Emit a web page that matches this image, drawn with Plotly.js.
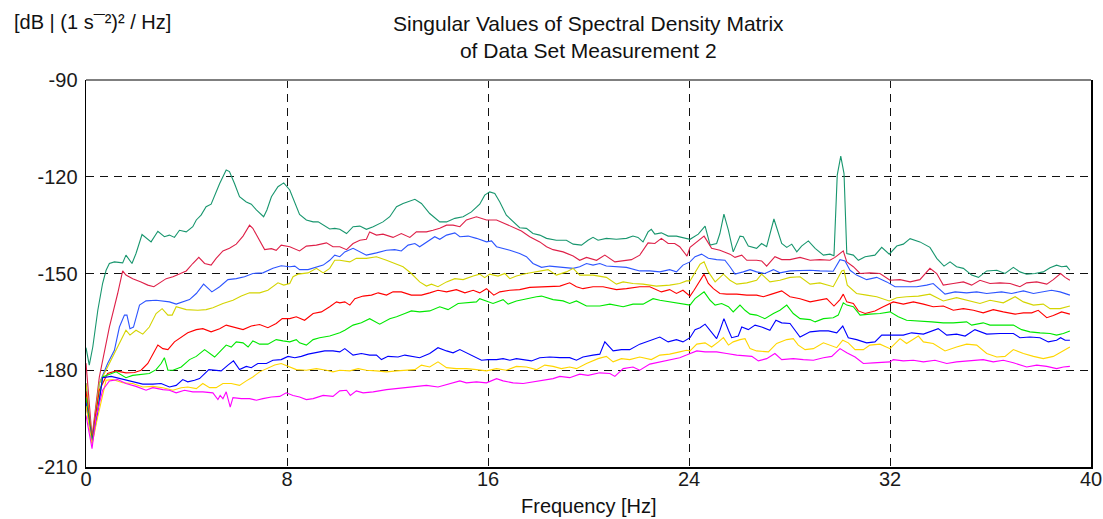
<!DOCTYPE html>
<html>
<head>
<meta charset="utf-8">
<script src="https://cdn.plot.ly/plotly-3.0.1.min.js"></script>
<style>html,body{margin:0;padding:0;background:#fff;}#chart{width:1103px;height:519px;}</style>
</head>
<body>
<div id="chart"></div>
<script>
// ---- data (frequency [Hz], singular value [dB]) ----
const sv1F = [0,0.13,0.27,0.47,0.66,0.80,0.93,1.13,1.46,1.59,1.83,1.99,2.23,2.59,2.86,3.12,3.32,3.52,3.72,3.99,4.25,4.39,4.58,4.78,4.98,5.12,5.32,5.58,5.71,5.91,6.11,6.38,6.58,6.78,7.07,7.20,7.38,7.64,7.87,8.11,8.31,8.50,8.77,9.04,9.24,9.44,9.70,9.90,10.10,10.37,10.63,10.90,11.16,11.43,11.82,12.09,12.36,12.62,13.09,13.35,13.68,14.08,14.35,14.68,15.01,15.34,15.67,15.87,16.07,16.27,16.47,16.73,17.00,17.26,17.53,17.79,18.06,18.33,18.72,19.12,19.39,19.72,19.98,20.18,20.38,20.71,21.11,21.51,21.77,21.97,22.17,22.37,22.50,22.64,22.90,23.17,23.50,23.76,24.04,24.37,24.64,24.84,25.10,25.23,25.39,25.57,25.76,26.03,26.16,26.36,26.69,26.89,27.09,27.38,27.69,27.89,28.09,28.29,28.48,28.75,29.02,29.35,29.61,29.77,29.90,30.04,30.17,30.28,30.54,30.74,31.01,31.40,31.67,31.97,32.27,32.53,32.80,33.19,33.59,33.86,34.15,34.39,34.65,34.92,35.25,35.52,35.85,36.25,36.58,36.91,37.17,37.44,37.77,38.10,38.37,38.63,38.83,39.03,39.16];
const sv1 = [-173,-178.4,-172.8,-161.4,-153.1,-149.0,-146.9,-146.4,-146.7,-144.3,-146.9,-143.8,-137.9,-140.2,-136.9,-138.6,-138.1,-138.8,-136.6,-137.1,-135.5,-133.4,-131.9,-129.3,-128.5,-125.7,-122.1,-117.9,-118.4,-122.1,-126.2,-127.8,-128.5,-130.3,-132.4,-130.3,-126.2,-123.1,-121.9,-124.1,-128.3,-131.7,-133.4,-134.0,-134.0,-135.0,-136.2,-136.0,-136.3,-137.6,-135.5,-135.3,-136.3,-135.5,-134.0,-132.4,-129.3,-128.3,-127.0,-128.3,-131.4,-134.0,-134.0,-132.9,-132.4,-130.9,-128.5,-125.7,-124.7,-125.2,-127.8,-131.9,-134.0,-135.8,-136.0,-137.6,-138.1,-139.1,-139.7,-139.7,-140.9,-141.2,-139.7,-138.8,-139.7,-139.1,-139.4,-139.1,-138.4,-138.8,-140.2,-137.1,-136.3,-137.8,-137.4,-138.4,-138.4,-138.8,-139.4,-137.8,-135.3,-141.2,-140.7,-137.6,-131.6,-136.6,-143.3,-138.4,-138.6,-141.5,-142.2,-140.7,-141.7,-133.1,-140.7,-141.9,-140.9,-143.3,-141.5,-139.9,-142.2,-144.3,-144.0,-144.5,-119.5,-113.6,-119.0,-143.8,-144.3,-145.9,-144.8,-144.3,-141.9,-144.0,-141.5,-140.9,-139.2,-140.2,-141.9,-145.3,-147.7,-146.4,-147.9,-148.4,-150.5,-151.2,-149.2,-149.0,-150.0,-148.1,-149.5,-150.2,-150.0,-149.5,-148.2,-147.4,-147.9,-147.7,-149.0];

const sv2F = [0,0.24,0.53,0.93,1.26,1.46,1.59,1.86,2.19,2.46,2.70,2.92,3.19,3.46,3.72,3.99,4.25,4.49,4.72,4.98,5.18,5.45,5.71,5.98,6.25,6.51,6.64,6.84,7.11,7.38,7.57,7.77,8.11,8.50,8.77,9.17,9.57,9.83,10.10,10.37,10.63,10.90,11.16,11.29,11.56,11.82,12.22,12.55,12.89,13.15,13.55,13.81,14.08,14.35,14.61,14.88,15.14,15.54,15.94,16.34,16.60,17.00,17.33,17.66,18.06,18.33,18.59,18.99,19.39,19.65,19.92,20.32,20.65,21.05,21.38,21.71,22.04,22.37,22.64,22.90,23.17,23.43,23.63,23.92,24.04,24.31,24.60,24.90,25.23,25.63,25.83,26.10,26.30,26.69,26.89,27.09,27.42,27.69,28.02,28.42,28.82,29.21,29.61,29.81,30.14,30.28,30.54,30.81,31.20,31.60,32.00,32.40,32.80,33.19,33.59,33.86,34.12,34.52,34.92,35.25,35.58,35.98,36.38,36.78,37.17,37.44,37.84,38.24,38.50,38.79,38.97,39.16];
const sv2 = [-177.8,-200.7,-182.1,-166.6,-156.2,-149.2,-150.5,-151.6,-152.6,-153.6,-154.1,-152.9,-151.6,-151.0,-150.0,-149.2,-146.9,-145.0,-146.9,-147.4,-145.3,-143.0,-142.2,-140.9,-138.4,-135.0,-136.0,-138.8,-142.6,-142.3,-142.8,-141.2,-141.7,-143.0,-141.5,-141.2,-140.5,-141.7,-141.7,-142.6,-140.7,-139.7,-139.4,-137.1,-138.1,-137.8,-138.8,-137.6,-138.8,-137.1,-137.1,-136.6,-136.0,-135.0,-135.0,-135.5,-133.4,-132.4,-133.4,-133.4,-134.3,-135.7,-136.8,-138.6,-140.2,-141.7,-142.6,-143.3,-144.6,-145.9,-145.0,-145.9,-144.3,-146.4,-146.1,-145.7,-144.3,-140.5,-140.7,-139.1,-140.7,-140.7,-141.7,-144.6,-141.9,-140.2,-138.4,-142.2,-142.8,-144.0,-145.0,-144.3,-145.9,-145.9,-146.1,-147.7,-144.8,-145.7,-145.7,-145.0,-145.9,-145.7,-145.9,-145.0,-143.0,-146.4,-147.9,-150.0,-149.8,-150.0,-152.1,-151.9,-152.6,-151.9,-148.4,-150.0,-153.6,-153.1,-152.6,-153.6,-152.1,-153.1,-152.9,-153.1,-154.1,-152.9,-152.6,-153.3,-151.9,-150.0,-151.2,-152.1];

const sv3F = [0,0.24,0.53,0.86,1.13,1.33,1.53,1.63,1.75,1.89,2.13,2.39,2.79,3.06,3.32,3.59,3.85,4.12,4.39,4.68,5.01,5.32,5.65,5.98,6.31,6.64,7.04,7.44,7.77,8.11,8.31,8.50,8.84,9.17,9.44,9.70,9.90,10.10,10.30,10.63,10.90,11.16,11.56,11.96,12.29,12.55,12.82,13.09,13.28,13.55,13.88,14.08,14.35,14.68,14.88,15.21,15.54,15.94,16.14,16.34,16.60,16.87,17.26,17.53,17.79,18.13,18.46,18.86,19.39,19.65,19.92,20.18,20.45,20.71,21.11,21.51,22.04,22.44,22.84,23.23,23.50,23.76,24.04,24.24,24.50,24.77,25.10,25.43,25.63,25.83,26.16,26.43,26.69,27.02,27.36,27.62,28.02,28.42,28.82,29.21,29.74,30.01,30.21,30.41,30.67,31.07,31.47,31.87,32.20,32.60,33.06,33.46,33.72,34.19,34.59,35.05,35.45,35.85,36.44,36.84,37.31,37.71,38.10,38.43,38.77,39.16];
const sv3 = [-184,-201.5,-184.1,-177.9,-173.8,-166.6,-162.9,-162.9,-167.1,-166.6,-159.8,-158.5,-158.3,-158.5,-158.8,-159.5,-158.8,-158.1,-156.2,-153.3,-155.7,-154.1,-151.9,-151.6,-151.0,-150.0,-149.8,-148.4,-147.6,-147.9,-147.7,-148.8,-148.8,-147.9,-147.4,-145.9,-144.3,-144.8,-143.3,-142.2,-143.3,-144.3,-143.6,-142.8,-142.6,-143.0,-141.2,-140.7,-141.7,-140.2,-138.6,-139.4,-138.1,-137.4,-138.6,-138.4,-139.1,-140.2,-139.9,-141.7,-142.2,-142.8,-143.8,-144.8,-146.9,-148.1,-147.7,-148.1,-148.4,-147.9,-146.9,-147.4,-146.9,-147.7,-147.9,-148.1,-149.2,-149.2,-149.5,-148.8,-149.5,-147.4,-146.4,-144.8,-144.0,-145.3,-145.7,-145.9,-147.9,-150.2,-149.5,-148.8,-149.5,-150.0,-148.8,-149.8,-149.2,-149.0,-149.0,-149.2,-149.3,-145.7,-146.1,-149.0,-150.5,-151.9,-151.2,-152.6,-154.1,-154.1,-154.1,-153.6,-153.1,-156.4,-155.7,-156.0,-155.7,-156.2,-155.7,-156.2,-155.4,-156.2,-155.7,-155.2,-155.7,-156.7];

const sv4F = [0,0.24,0.53,0.93,1.26,1.59,1.75,1.99,2.26,2.52,2.79,3.03,3.26,3.43,3.59,3.99,4.45,4.78,5.05,5.45,5.85,6.18,6.51,6.91,7.24,7.64,7.87,8.11,8.24,8.44,8.84,9.17,9.44,9.70,9.90,10.10,10.50,10.76,11.16,11.56,11.96,12.29,12.62,12.95,13.28,13.55,13.75,14.01,14.35,14.68,15.01,15.41,15.67,15.87,16.07,16.40,16.67,16.87,17.13,17.53,17.93,18.39,18.72,19.12,19.39,19.65,20.18,20.71,21.11,21.38,21.77,22.17,22.70,23.23,23.63,23.90,24.04,24.24,24.44,24.60,24.77,25.04,25.37,25.63,25.90,26.30,26.69,26.89,27.22,27.62,28.02,28.42,28.82,29.21,29.74,30.08,30.17,30.30,30.67,31.07,31.47,31.97,32.27,32.66,33.13,33.59,34.12,34.65,35.05,35.58,35.98,36.51,36.98,37.31,37.71,38.10,38.37,38.77,39.16];
const sv4 = [-184,-202,-184.1,-177.9,-172.8,-167.6,-169.1,-167.6,-168.8,-166.6,-162.4,-160.9,-162.9,-162.9,-160.3,-161.2,-161.4,-161.2,-160.6,-159.3,-158.3,-157.0,-156.0,-156.0,-155.2,-152.9,-153.6,-153.1,-151.0,-150.2,-149.8,-148.4,-149.8,-148.4,-145.9,-145.9,-146.4,-145.3,-145.3,-144.8,-145.9,-146.9,-147.9,-150.0,-152.6,-153.9,-153.3,-154.1,-152.6,-151.6,-151.9,-150.8,-150.2,-151.3,-150.2,-150.8,-150.0,-151.6,-150.8,-150.0,-149.5,-148.8,-150.5,-149.5,-148.4,-150.5,-150.5,-151.2,-153.3,-152.6,-153.1,-153.3,-153.9,-153.6,-153.1,-152.3,-152.3,-149.5,-147.1,-146.4,-149.5,-152.6,-150.2,-152.1,-153.3,-152.9,-152.1,-150.2,-152.6,-152.1,-151.2,-151.0,-153.3,-152.9,-154.1,-149.2,-149.0,-153.6,-156.2,-156.7,-157.2,-158.5,-157.5,-157.2,-157.0,-156.4,-158.5,-157.5,-158.3,-159.3,-158.3,-159.1,-157.2,-158.8,-159.8,-159.5,-160.9,-160.9,-160.1];

const sv5F = [0,0.24,0.53,0.86,1.20,1.59,1.93,2.19,2.46,2.66,2.86,3.06,3.26,3.52,3.79,4.05,4.39,4.65,4.98,5.32,5.58,5.91,6.25,6.58,6.91,7.24,7.57,7.81,8.11,8.37,8.70,9.04,9.37,9.70,9.97,10.10,10.30,10.50,10.70,11.03,11.36,11.63,11.96,12.22,12.55,12.95,13.35,13.68,14.01,14.35,14.74,15.08,15.41,15.67,15.94,16.23,16.47,16.87,17.26,17.66,18.06,18.46,18.86,19.25,19.52,19.78,20.18,20.58,21.11,21.51,22.04,22.44,22.90,23.23,23.50,23.76,24.04,24.20,24.44,24.60,24.77,24.97,25.23,25.50,25.90,26.30,26.69,26.96,27.29,27.69,28.02,28.42,28.82,29.15,29.48,29.77,30.01,30.14,30.28,30.54,30.74,31.01,31.40,31.73,32.13,32.53,32.93,33.33,33.72,34.12,34.52,34.92,35.32,35.71,36.11,36.51,36.98,37.31,37.64,37.90,38.24,38.50,38.83,39.16];
const sv5 = [-186.5,-201.5,-186.2,-181.0,-180.2,-180.8,-180.7,-180.0,-177.9,-174.8,-172.2,-173.3,-173.6,-171.2,-169.7,-168.4,-167.4,-167.1,-168.1,-167.1,-166.0,-166.6,-167.4,-166.3,-165.8,-166.8,-165.5,-164.0,-164.0,-163.4,-164.5,-162.4,-161.9,-160.3,-158.8,-159.1,-158.8,-159.8,-157.8,-157.0,-156.7,-156.0,-156.7,-155.7,-155.7,-156.7,-156.7,-156.0,-155.2,-155.7,-155.0,-156.0,-155.2,-156.0,-154.7,-156.7,-155.7,-155.2,-155.0,-154.3,-154.1,-154.1,-153.9,-152.9,-154.1,-154.7,-154.1,-154.1,-155.0,-154.7,-154.1,-154.1,-155.7,-155.0,-156.2,-155.2,-157.0,-155.2,-152.1,-150.2,-153.1,-154.7,-156.2,-156.4,-156.4,-156.7,-156.7,-157.2,-156.4,-155.4,-157.2,-157.8,-158.8,-158.3,-157.8,-160.1,-158.1,-156.4,-158.8,-159.3,-161.6,-162.4,-161.6,-160.3,-158.8,-159.5,-158.8,-159.5,-160.3,-160.1,-161.4,-160.9,-161.4,-162.2,-161.2,-161.9,-162.6,-162.2,-162.2,-161.4,-163.7,-163.0,-161.9,-162.6];

const sv6F = [0,0.24,0.45,0.66,1.20,1.59,1.86,2.26,2.52,2.79,2.99,3.12,3.26,3.46,3.79,4.12,4.39,4.72,4.92,5.12,5.32,5.58,5.78,5.98,6.25,6.45,6.64,6.91,7.24,7.57,7.84,8.11,8.37,8.50,8.77,9.04,9.30,9.70,10.10,10.30,10.63,10.96,11.29,11.69,12.09,12.36,12.69,12.95,13.28,13.68,14.08,14.41,14.81,15.14,15.54,15.67,16.00,16.20,16.60,16.80,17.13,17.53,17.93,18.13,18.59,18.99,19.25,19.52,19.92,20.45,20.85,21.38,21.77,22.17,22.57,22.84,23.23,23.63,23.90,24.04,24.24,24.60,24.84,25.04,25.30,25.57,25.76,26.03,26.23,26.43,26.69,27.02,27.36,27.62,27.89,28.15,28.42,28.82,29.02,29.35,29.74,29.94,30.14,30.28,30.54,30.81,31.20,31.60,32.00,32.33,32.66,33.19,33.66,34.12,34.52,35.05,35.25,35.71,35.98,36.44,36.91,37.24,37.57,37.97,38.37,38.63,38.90,39.16];
const sv6 = [-188.5,-202,-193,-182.1,-180.5,-182.3,-181.6,-181.2,-181.0,-179.8,-177.9,-176.1,-180.0,-180.0,-179.0,-176.7,-175.7,-173.6,-174.8,-175.9,-174.3,-172.2,-172.8,-171.2,-171.5,-172.8,-170.9,-171.9,-171.9,-170.5,-170.9,-171.2,-170.5,-171.5,-172.2,-170.5,-169.9,-169.4,-168.4,-167.6,-166.0,-165.3,-164.0,-165.7,-164.0,-163.4,-162.4,-161.6,-161.9,-161.6,-160.3,-161.2,-159.3,-159.1,-158.8,-157.8,-158.8,-159.3,-158.1,-159.5,-158.5,-157.8,-157.2,-157.0,-158.1,-158.5,-159.3,-158.5,-160.1,-160.1,-159.5,-160.3,-159.5,-159.5,-157.8,-158.3,-158.8,-159.3,-159.8,-159.8,-157.8,-155.7,-158.3,-159.8,-159.3,-160.3,-161.9,-159.8,-161.4,-162.6,-162.9,-164.0,-162.4,-161.4,-159.8,-162.4,-164.0,-164.3,-165.0,-164.0,-163.7,-162.9,-159.1,-159.8,-160.3,-162.9,-162.6,-162.4,-161.9,-163.4,-164.5,-164.7,-165.0,-165.3,-165.3,-165.0,-166.0,-165.3,-166.0,-166.0,-166.0,-167.4,-168.1,-168.4,-168.6,-169.1,-168.6,-167.8];

const sv7F = [0,0.24,0.45,0.66,1.00,1.40,1.59,1.86,2.26,2.66,2.99,3.32,3.59,3.85,4.05,4.32,4.52,4.89,5.12,5.38,5.65,5.87,6.11,6.38,6.58,6.84,7.18,7.44,7.77,8.04,8.31,8.57,8.84,9.17,9.50,9.83,10.10,10.30,10.63,10.96,11.29,11.56,11.76,12.02,12.42,12.69,13.02,13.28,13.68,14.01,14.35,14.61,14.88,15.21,15.47,15.74,16.00,16.34,16.60,16.87,17.13,17.40,17.73,18.06,18.46,18.86,19.25,19.52,19.78,20.18,20.45,20.65,20.98,21.31,21.64,22.04,22.44,22.84,23.17,23.50,23.76,24.04,24.24,24.44,24.64,24.84,25.10,25.23,25.39,25.57,25.70,25.96,26.10,26.36,26.63,26.89,27.22,27.46,27.69,28.02,28.42,28.82,29.21,29.55,29.88,30.12,30.34,30.67,31.07,31.40,31.67,32.13,32.53,32.86,33.33,33.92,34.26,34.65,34.99,35.38,35.85,36.38,36.91,37.17,37.57,37.97,38.30,38.63,38.79,38.97,39.16];
const sv7 = [-190,-202.5,-194,-182.3,-181.9,-182.6,-183.1,-183.6,-184.3,-184.3,-184.1,-185.2,-184.7,-182.9,-183.6,-183.1,-182.6,-179.8,-180.0,-180.2,-178.4,-177.1,-179.8,-178.8,-179.2,-177.9,-177.9,-176.9,-176.7,-175.7,-176.1,-175.7,-175.0,-174.6,-174.0,-174.0,-174.3,-173.3,-175.3,-174.8,-175.3,-175.3,-176.7,-175.7,-175.9,-175.3,-175.7,-176.1,-174.8,-173.0,-174.0,-174.6,-173.6,-174.8,-175.9,-176.9,-176.7,-176.7,-176.4,-176.9,-176.4,-176.7,-177.1,-176.1,-175.9,-176.1,-176.1,-176.9,-175.9,-175.3,-175.0,-171.2,-174.0,-173.6,-173.6,-171.9,-170.9,-169.7,-171.2,-170.5,-171.2,-169.9,-167.4,-166.8,-165.7,-167.8,-170.2,-167.6,-164.0,-167.6,-169.9,-169.4,-166.6,-167.4,-166.0,-166.6,-167.6,-164.5,-165.3,-165.5,-169.7,-168.1,-167.8,-167.8,-168.4,-166.3,-169.9,-170.5,-171.5,-171.2,-169.1,-169.1,-169.1,-168.4,-168.8,-167.1,-169.1,-168.8,-169.4,-167.4,-168.8,-168.6,-168.6,-169.9,-169.7,-169.9,-171.2,-170.7,-169.9,-170.7,-170.7];

const sv8F = [0,0.24,0.45,0.80,1.06,1.46,1.86,2.26,2.66,3.06,3.46,3.79,4.05,4.39,4.65,4.92,5.18,5.45,5.78,6.11,6.38,6.64,6.91,7.18,7.51,7.77,8.11,8.37,8.77,9.17,9.57,9.83,10.10,10.50,10.83,11.16,11.56,11.96,12.36,12.75,13.09,13.35,13.68,14.01,14.35,14.74,15.14,15.54,15.94,16.34,16.73,17.13,17.53,17.93,18.26,18.59,18.92,19.25,19.52,19.92,20.38,20.71,20.98,21.31,21.64,22.04,22.50,22.84,23.23,23.63,23.90,24.04,24.31,24.64,24.90,25.17,25.37,25.57,25.76,26.03,26.23,26.43,26.69,27.16,27.49,27.89,28.15,28.35,28.62,28.95,29.35,29.88,30.12,30.34,30.61,30.94,31.20,31.60,32.00,32.40,32.66,33.13,33.33,33.72,34.19,34.65,35.05,35.45,35.85,36.25,36.58,36.91,37.31,37.71,38.10,38.50,38.90,39.16];
const sv8 = [-191,-203,-195,-183.1,-182.9,-183.9,-184.1,-185.2,-185.0,-185.4,-186.2,-185.4,-185.2,-185.7,-184.1,-185.4,-185.4,-184.1,-184.1,-184.7,-183.3,-182.1,-180.5,-179.5,-178.4,-177.9,-179.0,-179.8,-180.0,-179.5,-180.0,-180.5,-180.0,-180.2,-179.5,-180.0,-180.2,-180.5,-180.2,-180.0,-179.8,-178.4,-179.0,-177.4,-179.2,-179.5,-179.5,-179.8,-180.2,-179.5,-180.0,-178.8,-179.0,-179.8,-178.4,-178.8,-179.5,-179.0,-179.5,-177.9,-176.4,-175.7,-177.4,-176.4,-176.7,-175.9,-176.7,-175.3,-175.0,-174.3,-173.8,-174.0,-171.9,-171.5,-172.8,-171.2,-169.9,-172.2,-171.2,-170.5,-170.2,-173.3,-174.0,-174.3,-171.7,-170.5,-170.2,-172.2,-173.6,-173.3,-171.5,-173.0,-170.7,-171.5,-173.6,-173.6,-172.2,-171.9,-173.3,-170.2,-171.7,-169.4,-171.2,-171.7,-174.0,-172.8,-171.9,-172.2,-174.8,-175.9,-175.7,-173.6,-174.8,-175.7,-176.4,-175.7,-174.0,-172.8];

const sv9F = [0,0.24,0.40,0.66,0.93,1.26,1.59,1.99,2.39,2.66,3.06,3.32,3.59,3.92,4.25,4.65,5.05,5.25,5.34,5.45,5.58,5.74,5.85,6.18,6.51,6.78,7.04,7.38,7.71,7.97,8.24,8.50,8.77,9.04,9.44,9.83,10.10,10.37,10.52,10.76,11.03,11.43,11.96,12.36,12.75,13.15,13.55,14.01,14.48,14.88,15.14,15.54,15.94,16.34,16.60,17.00,17.40,17.79,18.26,18.59,18.86,19.25,19.65,19.98,20.45,20.85,21.05,21.38,21.77,22.04,22.44,22.84,23.23,23.63,23.90,24.04,24.31,24.64,25.10,25.50,25.90,26.50,26.76,27.09,27.42,27.69,28.15,28.55,28.95,29.35,29.68,30.01,30.28,30.61,30.94,31.34,31.73,32.00,32.13,32.53,32.93,33.33,33.79,34.26,34.65,35.18,35.71,36.11,36.51,36.91,37.44,37.84,38.24,38.63,38.90,39.16];
const sv9 = [-194,-204.3,-194.5,-186.2,-183.3,-182.9,-184.1,-185.0,-186.2,-185.4,-186.0,-186.2,-187.0,-186.2,-186.7,-186.7,-187.0,-189.1,-187.8,-188.8,-186.7,-191.4,-188.5,-188.8,-188.8,-189.3,-188.8,-188.3,-188.1,-187.0,-187.8,-188.3,-189.1,-188.8,-187.8,-188.1,-186.4,-186.2,-187.8,-186.4,-187.0,-186.7,-186.0,-185.7,-185.4,-185.0,-184.7,-185.2,-184.3,-183.3,-183.9,-183.6,-183.9,-182.6,-183.3,-183.9,-184.1,-183.6,-183.1,-182.6,-181.9,-182.3,-181.2,-181.6,-180.8,-181.0,-181.9,-179.5,-179.0,-180.0,-178.1,-177.4,-176.7,-176.1,-175.3,-174.8,-174.0,-174.3,-174.3,-174.8,-175.3,-175.7,-177.1,-176.4,-174.8,-176.7,-176.4,-176.7,-176.9,-176.1,-175.7,-173.3,-174.6,-175.9,-177.9,-177.7,-177.4,-177.4,-176.7,-177.1,-176.9,-177.4,-176.9,-177.9,-177.4,-177.1,-176.7,-177.4,-176.9,-177.7,-179.0,-178.4,-178.8,-179.5,-179.0,-178.8];

const seriesF = [sv1F, sv2F, sv3F, sv4F, sv5F, sv6F, sv7F, sv8F, sv9F];
const seriesV = [sv1, sv2, sv3, sv4, sv5, sv6, sv7, sv8, sv9];
const seriesColors = ['rgb(24,150,110)','rgb(222,32,72)','rgb(45,85,255)','rgb(212,212,0)','rgb(255,0,0)','rgb(0,232,0)','rgb(0,0,255)','rgb(255,214,0)','rgb(255,0,255)'];

const xTicks = [0, 8, 16, 24, 32, 40];
const yTicks = [-210, -180, -150, -120, -90];
const titleText = 'Singular Values of Spectral Density Matrix<br>of Data Set Measurement 2';
const xTitleText = 'Frequency [Hz]';
const yUnitText = '[dB | (1 s¯²)² / Hz]';

// ---- chart ----
const FONT = 'Liberation Sans, Arial, Helvetica, sans-serif';
const traces = seriesF.map((f, i) => ({
  x: f, y: seriesV[i], type: 'scatter', mode: 'lines',
  line: {color: seriesColors[i], width: 1.1},
  hoverinfo: 'skip', showlegend: false
}));

const layout = {
  width: 1103, height: 519,
  margin: {l: 86, r: 12, t: 80, b: 52},
  paper_bgcolor: '#ffffff', plot_bgcolor: '#ffffff',
  font: {family: FONT, size: 20, color: '#1a1a1a'},
  showlegend: false,
  xaxis: {
    range: [0, 40], tickmode: 'array', tickvals: xTicks, ticktext: xTicks.map(String),
    showline: true, linecolor: '#000', linewidth: 1.5, mirror: false,
    showgrid: true, gridcolor: '#111', gridwidth: 1, griddash: '8px,6px',
    zeroline: false, ticks: '', ticklen: 0, ticklabelstandoff: -7,
    tickfont: {family: FONT, size: 20, color: '#1a1a1a'}, fixedrange: true
  },
  yaxis: {
    range: [-210, -90], tickmode: 'array', tickvals: yTicks, ticktext: yTicks.map(String),
    showline: true, linecolor: '#000', linewidth: 1.5, mirror: true,
    showgrid: true, gridcolor: '#111', gridwidth: 1, griddash: '8px,6px',
    zeroline: false, ticks: '', ticklen: 0, ticklabelstandoff: 3,
    tickfont: {family: FONT, size: 20, color: '#1a1a1a'}, fixedrange: true
  },
  shapes: [
    {type: 'line', xref: 'paper', yref: 'paper', x0: 0, x1: 1, y0: 1, y1: 1,
     line: {color: '#7f7f7f', width: 2}, layer: 'above'}
  ],
  annotations: [
    {text: titleText, xref: 'paper', yref: 'paper', x: 0.5, y: 1.112,
     xanchor: 'center', yanchor: 'middle', showarrow: false, align: 'center',
     font: {family: FONT, size: 21, color: '#111'}},
    {text: yUnitText, xref: 'paper', yref: 'paper', x: -0.074, y: 1.150,
     xanchor: 'left', yanchor: 'middle', showarrow: false,
     font: {family: FONT, size: 20, color: '#111'}},
    {text: xTitleText, xref: 'paper', yref: 'paper', x: 0.5, y: -0.101,
     xanchor: 'center', yanchor: 'middle', showarrow: false,
     font: {family: FONT, size: 20, color: '#111'}}
  ]
};

Plotly.newPlot('chart', traces, layout, {displayModeBar: false, staticPlot: true});
</script>
</body>
</html>
